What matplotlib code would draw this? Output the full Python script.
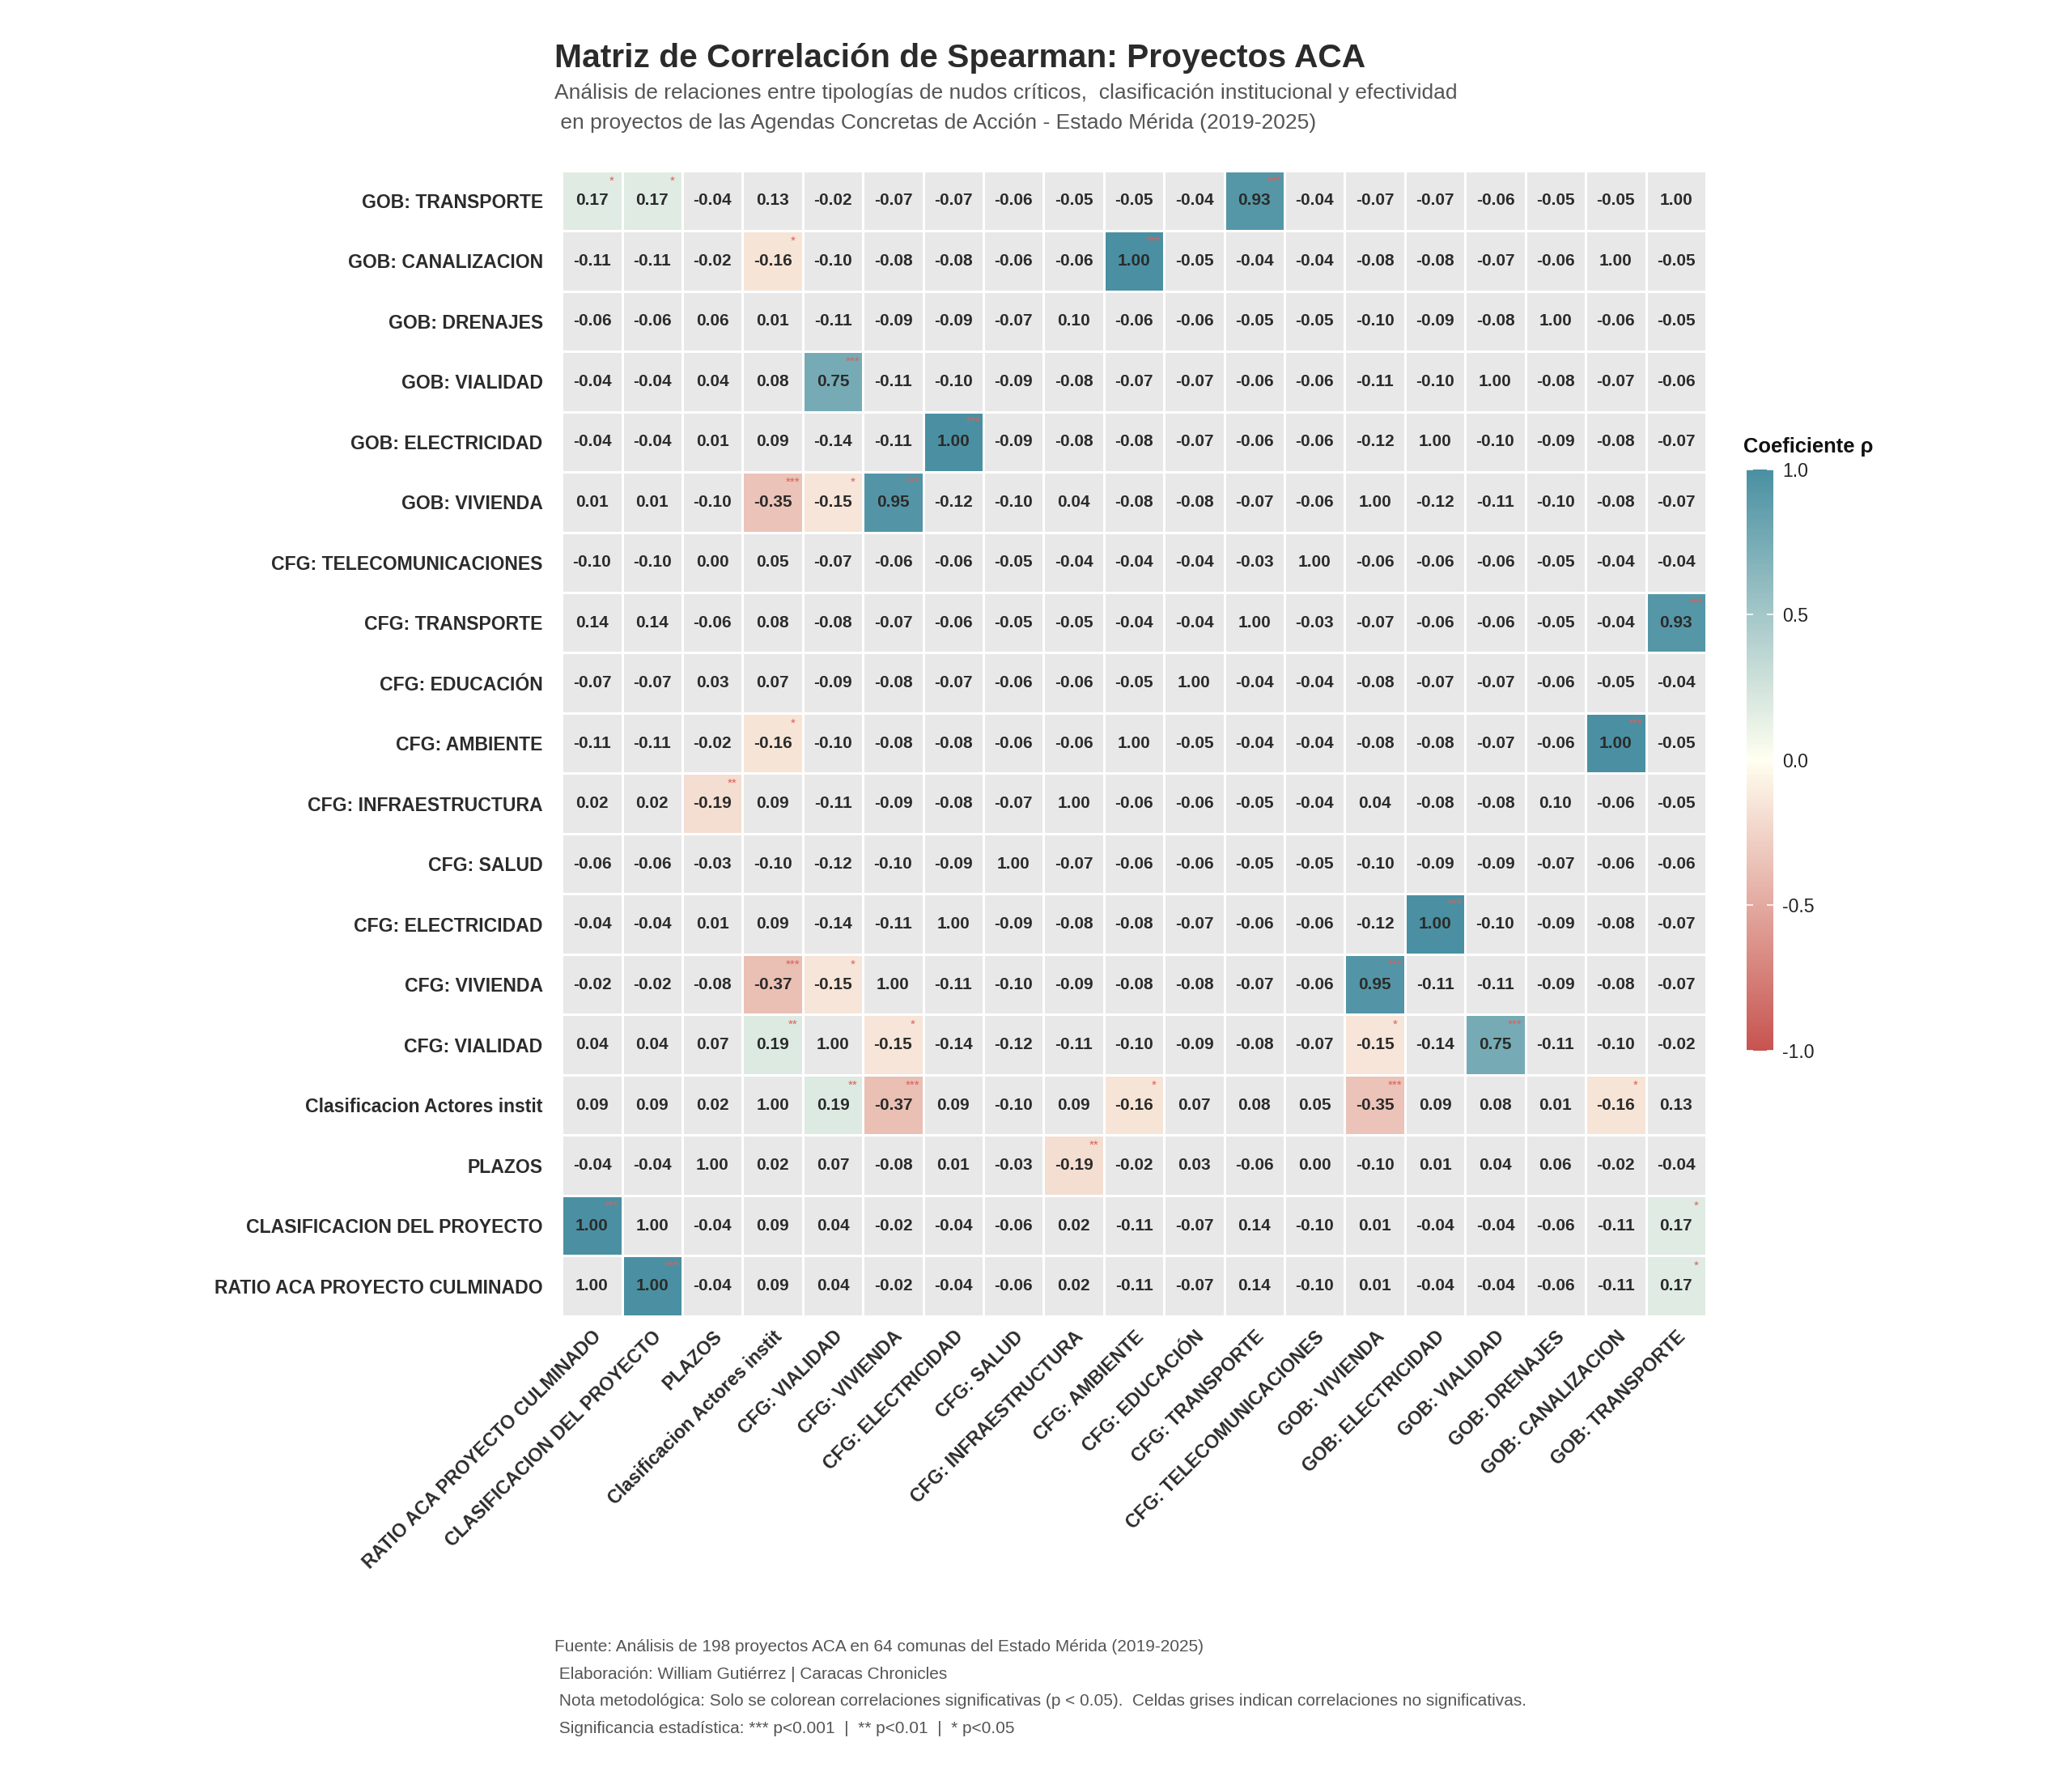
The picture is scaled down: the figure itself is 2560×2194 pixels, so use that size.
import numpy as np
import matplotlib.pyplot as plt
import matplotlib as mpl
from matplotlib.colors import LinearSegmentedColormap

mpl.rcParams.update({
    "font.family": ["Liberation Sans", "DejaVu Sans"],
    "axes.linewidth": 0,
})

# variable order (bottom -> top on y, left -> right on x)
VARIABLES = [
    "RATIO ACA PROYECTO CULMINADO", "CLASIFICACION DEL PROYECTO", "PLAZOS",
    "Clasificacion Actores instit", "CFG: VIALIDAD", "CFG: VIVIENDA",
    "CFG: ELECTRICIDAD", "CFG: SALUD", "CFG: INFRAESTRUCTURA", "CFG: AMBIENTE",
    "CFG: EDUCACIÓN", "CFG: TRANSPORTE", "CFG: TELECOMUNICACIONES",
    "GOB: VIVIENDA", "GOB: ELECTRICIDAD", "GOB: VIALIDAD", "GOB: DRENAJES",
    "GOB: CANALIZACION", "GOB: TRANSPORTE",
]

# Spearman rho, one row per variable (same order as VARIABLES)
RHO = [
    [1.00, 1.00, -0.04, 0.09, 0.04, -0.02, -0.04, -0.06, 0.02, -0.11, -0.07, 0.14, -0.10, 0.01, -0.04, -0.04, -0.06, -0.11, 0.17],
    [1.00, 1.00, -0.04, 0.09, 0.04, -0.02, -0.04, -0.06, 0.02, -0.11, -0.07, 0.14, -0.10, 0.01, -0.04, -0.04, -0.06, -0.11, 0.17],
    [-0.04, -0.04, 1.00, 0.02, 0.07, -0.08, 0.01, -0.03, -0.19, -0.02, 0.03, -0.06, 0.00, -0.10, 0.01, 0.04, 0.06, -0.02, -0.04],
    [0.09, 0.09, 0.02, 1.00, 0.19, -0.37, 0.09, -0.10, 0.09, -0.16, 0.07, 0.08, 0.05, -0.35, 0.09, 0.08, 0.01, -0.16, 0.13],
    [0.04, 0.04, 0.07, 0.19, 1.00, -0.15, -0.14, -0.12, -0.11, -0.10, -0.09, -0.08, -0.07, -0.15, -0.14, 0.75, -0.11, -0.10, -0.02],
    [-0.02, -0.02, -0.08, -0.37, -0.15, 1.00, -0.11, -0.10, -0.09, -0.08, -0.08, -0.07, -0.06, 0.95, -0.11, -0.11, -0.09, -0.08, -0.07],
    [-0.04, -0.04, 0.01, 0.09, -0.14, -0.11, 1.00, -0.09, -0.08, -0.08, -0.07, -0.06, -0.06, -0.12, 1.00, -0.10, -0.09, -0.08, -0.07],
    [-0.06, -0.06, -0.03, -0.10, -0.12, -0.10, -0.09, 1.00, -0.07, -0.06, -0.06, -0.05, -0.05, -0.10, -0.09, -0.09, -0.07, -0.06, -0.06],
    [0.02, 0.02, -0.19, 0.09, -0.11, -0.09, -0.08, -0.07, 1.00, -0.06, -0.06, -0.05, -0.04, 0.04, -0.08, -0.08, 0.10, -0.06, -0.05],
    [-0.11, -0.11, -0.02, -0.16, -0.10, -0.08, -0.08, -0.06, -0.06, 1.00, -0.05, -0.04, -0.04, -0.08, -0.08, -0.07, -0.06, 1.00, -0.05],
    [-0.07, -0.07, 0.03, 0.07, -0.09, -0.08, -0.07, -0.06, -0.06, -0.05, 1.00, -0.04, -0.04, -0.08, -0.07, -0.07, -0.06, -0.05, -0.04],
    [0.14, 0.14, -0.06, 0.08, -0.08, -0.07, -0.06, -0.05, -0.05, -0.04, -0.04, 1.00, -0.03, -0.07, -0.06, -0.06, -0.05, -0.04, 0.93],
    [-0.10, -0.10, 0.00, 0.05, -0.07, -0.06, -0.06, -0.05, -0.04, -0.04, -0.04, -0.03, 1.00, -0.06, -0.06, -0.06, -0.05, -0.04, -0.04],
    [0.01, 0.01, -0.10, -0.35, -0.15, 0.95, -0.12, -0.10, 0.04, -0.08, -0.08, -0.07, -0.06, 1.00, -0.12, -0.11, -0.10, -0.08, -0.07],
    [-0.04, -0.04, 0.01, 0.09, -0.14, -0.11, 1.00, -0.09, -0.08, -0.08, -0.07, -0.06, -0.06, -0.12, 1.00, -0.10, -0.09, -0.08, -0.07],
    [-0.04, -0.04, 0.04, 0.08, 0.75, -0.11, -0.10, -0.09, -0.08, -0.07, -0.07, -0.06, -0.06, -0.11, -0.10, 1.00, -0.08, -0.07, -0.06],
    [-0.06, -0.06, 0.06, 0.01, -0.11, -0.09, -0.09, -0.07, 0.10, -0.06, -0.06, -0.05, -0.05, -0.10, -0.09, -0.08, 1.00, -0.06, -0.05],
    [-0.11, -0.11, -0.02, -0.16, -0.10, -0.08, -0.08, -0.06, -0.06, 1.00, -0.05, -0.04, -0.04, -0.08, -0.08, -0.07, -0.06, 1.00, -0.05],
    [0.17, 0.17, -0.04, 0.13, -0.02, -0.07, -0.07, -0.06, -0.05, -0.05, -0.04, 0.93, -0.04, -0.07, -0.07, -0.06, -0.05, -0.05, 1.00],
]

# significant pairs (index i, index j, stars) -- mirrored below
SIG_PAIRS = [
    (0, 1, "***"), (0, 18, "*"), (1, 18, "*"), (2, 8, "**"),
    (3, 4, "**"), (3, 5, "***"), (3, 9, "*"), (3, 13, "***"), (3, 17, "*"),
    (4, 5, "*"), (4, 13, "*"), (4, 15, "***"), (5, 13, "***"),
    (6, 14, "***"), (9, 17, "***"), (11, 18, "***"),
]

TITLE = "Matriz de Correlación de Spearman: Proyectos ACA"
SUBTITLE = ("Análisis de relaciones entre tipologías de nudos críticos,  clasificación institucional y efectividad\n"
            " en proyectos de las Agendas Concretas de Acción - Estado Mérida (2019-2025)")
CAPTION = ("Fuente: Análisis de 198 proyectos ACA en 64 comunas del Estado Mérida (2019-2025)\n"
           " Elaboración: William Gutiérrez | Caracas Chronicles\n"
           " Nota metodológica: Solo se colorean correlaciones significativas (p < 0.05).  Celdas grises indican correlaciones no significativas.\n"
           " Significancia estadística: *** p<0.001  |  ** p<0.01  |  * p<0.05")

GREY = "#E8E8E8"
TXT = "#2B2B2B"
STAR = "#D9605B"
cmap = LinearSegmentedColormap.from_list("rho", ["#C75450", "#FFFFF0", "#4A90A2"])

n = len(VARIABLES)
rho = np.array(RHO)
stars = np.full((n, n), "", dtype=object)
for i, j, s in SIG_PAIRS:
    stars[i, j] = s
    stars[j, i] = s
sig = stars != ""

fig = plt.figure(figsize=(12.8, 10.97), dpi=200)
ax = fig.add_axes([0.2712, 0.2590, 0.5522, 0.6450])

edges = np.arange(n + 1) - 0.5
ax.pcolormesh(edges, edges, np.zeros((n, n)), cmap=LinearSegmentedColormap.from_list("g", [GREY, GREY]),
              edgecolors="white", linewidth=1.0)
mesh = ax.pcolormesh(edges, edges, np.ma.masked_where(~sig, rho), cmap=cmap, vmin=-1, vmax=1,
                     edgecolors="white", linewidth=1.0)

for i in range(n):
    for j in range(n):
        ax.text(j, i, f"{rho[i, j]:.2f}", ha="center", va="center",
                fontsize=7.5, fontweight="bold", color=TXT)
        if stars[i, j]:
            ax.text(j + 0.33, i + 0.33, stars[i, j], ha="center", va="center",
                    fontsize=5.5, color=STAR)

ax.set_xlim(-0.5, n - 0.5)
ax.set_ylim(-0.5, n - 0.5)
ax.set_xticks(range(n))
ax.set_yticks(range(n))
ax.set_xticklabels(VARIABLES, rotation=45, ha="right", va="top", rotation_mode="anchor",
                   fontsize=8.3, fontweight="bold", color=TXT)
ax.set_yticklabels(VARIABLES, fontsize=8.3, fontweight="bold", color=TXT)
ax.tick_params(length=0)
ax.tick_params(axis="y", pad=8.5)
ax.tick_params(axis="x", pad=5)
for s in ax.spines.values():
    s.set_visible(False)

# colorbar
cax = fig.add_axes([0.8430, 0.4085, 0.0129, 0.3273])
cb = fig.colorbar(mesh, cax=cax)
cb.outline.set_visible(False)
cb.set_ticks([-1, -0.5, 0, 0.5, 1])
cb.set_ticklabels(["-1.0", "-0.5", "0.0", "0.5", "1.0"])
cax.tick_params(direction="in", color="white", length=3, width=0.6, left=True, right=True,
                labelsize=8.3, labelcolor="#222222", pad=4)
fig.text(0.8415, 0.7485, "Coeficiente ρ", fontsize=9.2, fontweight="bold", color="#111111",
         ha="left", va="center")

# titles
fig.text(0.2677, 0.9673, TITLE, fontsize=14.7, fontweight="bold", color=TXT, ha="left", va="center")
fig.text(0.2677, 0.9529, SUBTITLE, fontsize=9.5, color="#555555", ha="left", va="top", linespacing=1.68)
fig.text(0.2677, 0.0769, CAPTION, fontsize=7.5, color="#555555", ha="left", va="top", linespacing=1.97)

fig.savefig("out.png", dpi=200, facecolor="white")
